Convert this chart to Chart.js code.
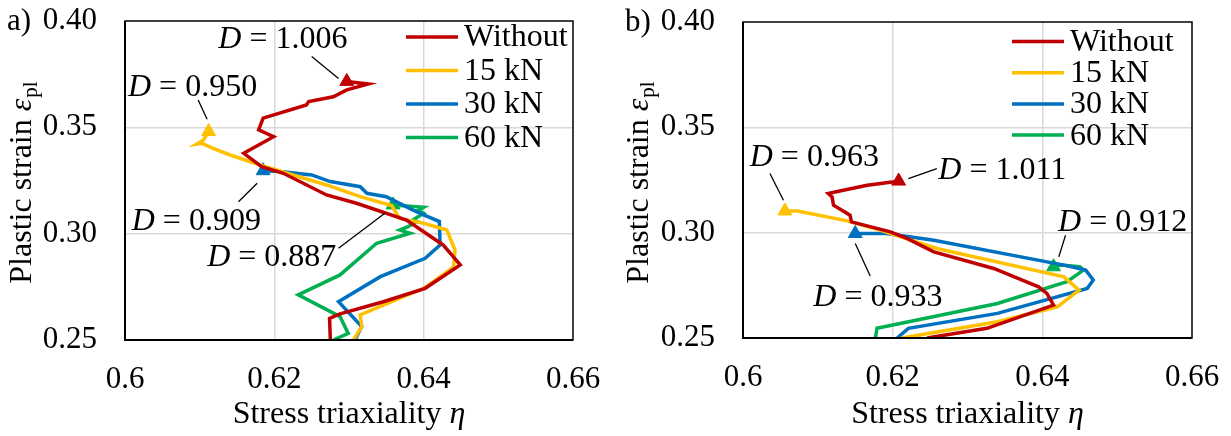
<!DOCTYPE html>
<html>
<head>
<meta charset="utf-8">
<script src="https://cdn.jsdelivr.net/npm/chart.js@4.4.1/dist/chart.umd.min.js"></script>
<style>
  body { margin: 0; background: #fff; }
  .wrap { position: absolute; top: 0; height: 436px; }
</style>
</head>
<body>
<div class="wrap" style="left:0;width:615px"><canvas id="chartA"></canvas></div>
<div class="wrap" style="left:615px;width:616px"><canvas id="chartB"></canvas></div>
<script>
const seriesLabels = ["Without", "15 kN", "30 kN", "60 kN"];
const seriesColors = ["#c00000", "#ffc000", "#0070c0", "#00b050"];
const xTicks = [0.6, 0.62, 0.64, 0.66];
const yTicks = [0.25, 0.3, 0.35, 0.4];

// panel a) [stress triaxiality, plastic strain], from first step to fracture
const aWithout = [[0.6275,0.25],[0.6274,0.2602],[0.6288,0.2623],[0.6346,0.268],[0.6402,0.2743],[0.6449,0.2853],[0.6426,0.2947],[0.6377,0.3064],[0.631,0.3143],[0.627,0.3182],[0.6212,0.3284],[0.6183,0.3315],[0.6159,0.3378],[0.6199,0.3456],[0.6179,0.3488],[0.6185,0.3543],[0.6243,0.3605],[0.6246,0.3621],[0.6279,0.3644],[0.6297,0.3676],[0.6326,0.3704],[0.6297,0.3716]];
const a15kN = [[0.6306,0.25],[0.6317,0.2563],[0.6315,0.2618],[0.64,0.2743],[0.644,0.2842],[0.6442,0.2923],[0.6431,0.3017],[0.64,0.3049],[0.6368,0.3072],[0.6357,0.3132],[0.6315,0.3174],[0.627,0.3229],[0.6225,0.3276],[0.6181,0.3323],[0.6141,0.337],[0.6118,0.3401],[0.6103,0.3425],[0.6096,0.3421],[0.6105,0.344],[0.6112,0.348]];
const a30kN = [[0.6308,0.25],[0.6317,0.2563],[0.6286,0.268],[0.6342,0.2798],[0.6402,0.2884],[0.6422,0.2947],[0.6421,0.3057],[0.64,0.3088],[0.6386,0.3111],[0.6359,0.3158],[0.635,0.3174],[0.6324,0.319],[0.6315,0.3221],[0.6275,0.3245],[0.625,0.3276],[0.6208,0.3292],[0.6185,0.3296]];
const a60kN = [[0.6279,0.25],[0.6299,0.2531],[0.6288,0.261],[0.6232,0.2712],[0.6288,0.2806],[0.6337,0.2955],[0.6382,0.3002],[0.6368,0.3017],[0.6379,0.3033],[0.6391,0.3057],[0.6386,0.3065],[0.64,0.3096],[0.6393,0.311],[0.64,0.3124],[0.6359,0.3135]];
const aDamage = ["1.006", "0.950", "0.909", "0.887"];

// panel b)
const bWithout = [[0.6246,0.25],[0.6326,0.2546],[0.6415,0.2656],[0.6406,0.2712],[0.6395,0.2743],[0.6335,0.283],[0.6255,0.2909],[0.6219,0.2973],[0.6197,0.3004],[0.6145,0.3051],[0.6143,0.3083],[0.6121,0.313],[0.6119,0.317],[0.6114,0.3186],[0.6134,0.3201],[0.6166,0.3225],[0.6199,0.324],[0.6208,0.3245]];
const b15kN = [[0.6212,0.25],[0.634,0.2577],[0.642,0.2648],[0.6449,0.2727],[0.6429,0.279],[0.6259,0.2925],[0.6183,0.3012],[0.6139,0.3056],[0.609,0.3091],[0.6072,0.3103],[0.6056,0.3103]];
const b30kN = [[0.6206,0.25],[0.6221,0.2546],[0.634,0.2617],[0.646,0.2735],[0.6468,0.2775],[0.6458,0.2822],[0.6429,0.2846],[0.6255,0.2964],[0.6192,0.2996],[0.615,0.2996]];
const b60kN = [[0.6177,0.25],[0.6179,0.2546],[0.634,0.2664],[0.6433,0.2767],[0.6455,0.2822],[0.645,0.2838],[0.6425,0.2846],[0.6415,0.2838]];
const bDamage = ["1.011", "0.963", "0.933", "0.912"];

// where each "D = ..." note sits (data units): text left/middle, leader line from -> to
const aNotes = [
  { text: aDamage[0], at: [0.6125, 0.3911], from: [0.625, 0.3833], to: [0.6286, 0.373] },
  { text: aDamage[1], at: [0.6004, 0.3685], from: [0.6098, 0.3629], to: [0.611, 0.3538] },
  { text: aDamage[2], at: [0.6009, 0.3055], from: [0.6152, 0.315], to: [0.6177, 0.3237] },
  { text: aDamage[3], at: [0.611, 0.2886], from: [0.6286, 0.2931], to: [0.6348, 0.3096] },
];
const bNotes = [
  { text: bDamage[0], at: [0.6261, 0.3296], from: [0.6221, 0.3257], to: [0.6259, 0.3304] },
  { text: bDamage[1], at: [0.6009, 0.3358], from: [0.6036, 0.3281], to: [0.6054, 0.3154] },
  { text: bDamage[2], at: [0.6094, 0.2694], from: [0.615, 0.2949], to: [0.617, 0.2794] },
  { text: bDamage[3], at: [0.6421, 0.305], from: [0.6431, 0.2988], to: [0.6422, 0.2885] },
];

const FONT = '"Liberation Serif", "Times New Roman", serif';
Chart.defaults.font.family = FONT;
Chart.defaults.color = "#000";

function toPoints(list) {
  return list.map(([x, y]) => ({ x: x, y: y }));
}

const decorate = {
  id: "decorate",
  afterDatasetsDraw(chart, args, o) {
    const { ctx, chartArea: a } = chart;
    const sx = chart.scales.x, sy = chart.scales.y;
    ctx.save();

    // plot frame
    ctx.strokeStyle = "#000";
    ctx.lineWidth = 1.5;
    ctx.strokeRect(a.left, a.top, a.right - a.left, a.bottom - a.top);
    ctx.lineWidth = 2;
    ctx.beginPath();
    ctx.moveTo(a.left, a.top);
    ctx.lineTo(a.left, a.bottom);
    ctx.lineTo(a.right, a.bottom);
    ctx.stroke();

    // legend
    ctx.textBaseline = "middle";
    ctx.textAlign = "left";
    ctx.font = "32px " + FONT;
    chart.data.datasets.forEach((ds, i) => {
      const yy = o.legend.y + i * o.legend.dy;
      ctx.strokeStyle = ds.borderColor;
      ctx.lineWidth = 3.5;
      ctx.beginPath();
      ctx.moveTo(o.legend.x, yy);
      ctx.lineTo(o.legend.x + 52, yy);
      ctx.stroke();
      ctx.fillStyle = "#000";
      ctx.fillText(ds.label, o.legend.x + 58, yy + 1);
    });

    // damage notes
    o.notes.forEach(n => {
      ctx.strokeStyle = "#000";
      ctx.lineWidth = 1.3;
      ctx.beginPath();
      ctx.moveTo(sx.getPixelForValue(n.from[0]), sy.getPixelForValue(n.from[1]));
      ctx.lineTo(sx.getPixelForValue(n.to[0]), sy.getPixelForValue(n.to[1]));
      ctx.stroke();
      let px = sx.getPixelForValue(n.at[0]);
      const py = sy.getPixelForValue(n.at[1]);
      ctx.fillStyle = "#000";
      ctx.font = "italic 32px " + FONT;
      ctx.fillText("D", px, py);
      px += ctx.measureText("D").width;
      ctx.font = "32px " + FONT;
      ctx.fillText(" = " + n.text, px, py);
    });

    // x title
    const cx = (a.left + a.right) / 2;
    ctx.font = "32px " + FONT;
    const t1 = "Stress triaxiality ";
    const w1 = ctx.measureText(t1).width;
    ctx.font = "italic 32px " + FONT;
    const w2 = ctx.measureText("η").width;
    let tx = cx - (w1 + w2) / 2;
    ctx.font = "32px " + FONT;
    ctx.fillText(t1, tx, 415);
    ctx.font = "italic 32px " + FONT;
    ctx.fillText("η", tx + w1, 415);

    // y title (rotated)
    ctx.save();
    ctx.translate(o.yTitleX, 183);
    ctx.rotate(-Math.PI / 2);
    ctx.font = "32px " + FONT;
    const p1 = "Plastic strain ";
    const q1 = ctx.measureText(p1).width;
    ctx.font = "italic 32px " + FONT;
    const q2 = ctx.measureText("ε").width;
    ctx.font = "21px " + FONT;
    const q3 = ctx.measureText("pl").width;
    let ty = -(q1 + q2 + q3) / 2;
    ctx.font = "32px " + FONT;
    ctx.fillText(p1, ty, 0);
    ctx.font = "italic 32px " + FONT;
    ctx.fillText("ε", ty + q1, 0);
    ctx.font = "21px " + FONT;
    ctx.fillText("pl", ty + q1 + q2 + 1, 8);
    ctx.restore();

    // panel label
    ctx.font = "31px " + FONT;
    ctx.fillText(o.panel, o.panelX, a.top + 1);

    ctx.restore();
  }
};

function makeChart(id, series, notes, lay) {
  const datasets = series.map((pts, i) => ({
    label: seriesLabels[i],
    data: toPoints(pts),
    showLine: true,
    borderColor: seriesColors[i],
    backgroundColor: seriesColors[i],
    borderWidth: 3.5,
    tension: 0,
    pointStyle: "triangle",
    pointRadius: c => (c.dataIndex === pts.length - 1 ? 8 : 0),
    pointBorderWidth: 1,
    pointBorderColor: seriesColors[i],
    pointBackgroundColor: seriesColors[i],
  }));
  const gridColor = c =>
    c.tick && (c.tick.value === c.scale.min || c.tick.value === c.scale.max) ? "rgba(0,0,0,0)" : "#d9d9d9";
  return new Chart(document.getElementById(id), {
    type: "scatter",
    data: { datasets },
    options: {
      responsive: true,
      maintainAspectRatio: false,
      animation: false,
      layout: { padding: { top: lay.top, right: lay.right, left: 0, bottom: 0 } },
      plugins: {
        legend: { display: false },
        tooltip: { enabled: false },
        decorate: {
          notes: notes,
          legend: lay.legend,
          yTitleX: lay.yTitleX,
          panel: lay.panel,
          panelX: lay.panelX,
        },
      },
      scales: {
        x: {
          type: "linear",
          min: 0.6,
          max: 0.66,
          afterBuildTicks: s => { s.ticks = xTicks.map(v => ({ value: v })); },
          afterFit: s => {
            s.height = lay.xHeight;
            s.paddingLeft = 0;
            s.paddingRight = 0;
          },
          ticks: { font: { size: 31 }, padding: 21, callback: v => String(+v.toFixed(2)) },
          grid: { color: gridColor, lineWidth: 1.5, drawTicks: false },
          border: { display: false },
        },
        y: {
          type: "linear",
          min: 0.25,
          max: 0.4,
          afterBuildTicks: s => { s.ticks = yTicks.map(v => ({ value: v })); },
          afterFit: s => {
            s.width = lay.yWidth;
            s.paddingTop = 0;
            s.paddingBottom = 0;
          },
          ticks: { font: { size: 31 }, padding: 28, callback: v => v.toFixed(2) },
          grid: { color: gridColor, lineWidth: 1.5, drawTicks: false },
          border: { display: false },
        },
      },
    },
    plugins: [decorate],
  });
}

makeChart("chartA", [aWithout, a15kN, a30kN, a60kN], aNotes, {
  top: 21, right: 42, yWidth: 125, xHeight: 96,
  legend: { x: 406, y: 37, dy: 33.5 }, yTitleX: 23, panel: "a)", panelX: 7,
});
makeChart("chartB", [bWithout, b15kN, b30kN, b60kN], bNotes, {
  top: 22, right: 39, yWidth: 128, xHeight: 98,
  legend: { x: 397, y: 41.5, dy: 31.2 }, yTitleX: 25, panel: "b)", panelX: 10,
});
</script>
</body>
</html>
